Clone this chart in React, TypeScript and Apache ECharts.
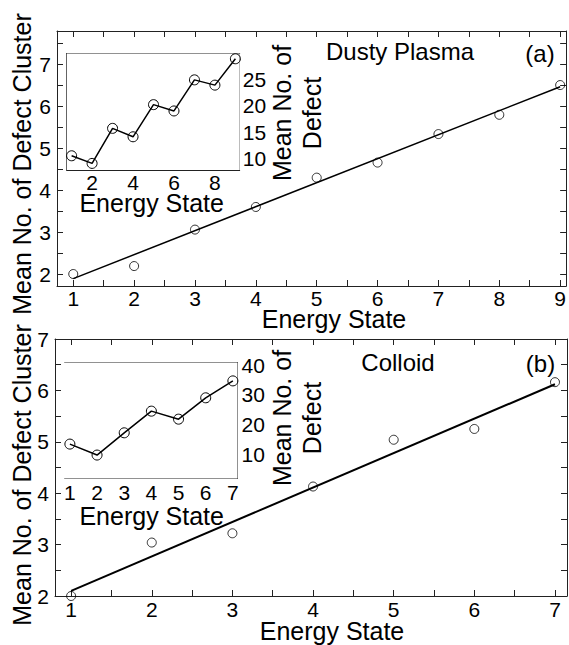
import React, { useEffect, useRef } from "react";
import * as echarts from "echarts";

const FONT = "'Liberation Sans', Arial, Helvetica, sans-serif";

// ---- Panel (a): Dusty Plasma ----
const plasmaStates = [1, 2, 3, 4, 5, 6, 7, 8, 9];
const plasmaClusters = [2.0, 2.19, 3.06, 3.6, 4.3, 4.66, 5.34, 5.8, 6.51];
const plasmaFitX = [1, 9];
const plasmaFitY = [1.89, 6.47];
const plasmaDefects = [10.5, 9.05, 15.7, 14.1, 20.2, 19.0, 24.9, 23.9, 28.9];

// ---- Panel (b): Colloid ----
const colloidStates = [1, 2, 3, 4, 5, 6, 7];
const colloidClusters = [2.0, 3.04, 3.22, 4.13, 5.04, 5.25, 6.16];
const colloidFitX = [1, 7];
const colloidFitY = [2.1, 6.12];
const colloidDefects = [13.4, 9.7, 17.2, 24.5, 21.8, 29.0, 34.7];

// ---- Ticks & labels ----
const plasmaXTicks = [1, 1.5, 2, 2.5, 3, 3.5, 4, 4.5, 5, 5.5, 6, 6.5, 7, 7.5, 8, 8.5, 9];
const plasmaXLabels = [1, 2, 3, 4, 5, 6, 7, 8, 9];
const plasmaYTicks = [2, 2.5, 3, 3.5, 4, 4.5, 5, 5.5, 6, 6.5, 7, 7.5];
const plasmaYLabels = [2, 3, 4, 5, 6, 7];
const plasmaInsetXTicks = [1, 2, 3, 4, 5, 6, 7, 8, 9];
const plasmaInsetXLabels = [2, 4, 6, 8];
const plasmaInsetYTicks = [10, 12.5, 15, 17.5, 20, 22.5, 25, 27.5];
const plasmaInsetYLabels = [10, 15, 20, 25];

const colloidXTicks = [1, 1.5, 2, 2.5, 3, 3.5, 4, 4.5, 5, 5.5, 6, 6.5, 7];
const colloidXLabels = [1, 2, 3, 4, 5, 6, 7];
const colloidYTicks = [2, 2.5, 3, 3.5, 4, 4.5, 5, 5.5, 6, 6.5, 7];
const colloidYLabels = [2, 3, 4, 5, 6, 7];
const colloidInsetXTicks = [1, 1.5, 2, 2.5, 3, 3.5, 4, 4.5, 5, 5.5, 6, 6.5, 7];
const colloidInsetXLabels = [1, 2, 3, 4, 5, 6, 7];
const colloidInsetYTicks = [5, 10, 15, 20, 25, 30, 35, 40];
const colloidInsetYLabels = [10, 20, 30, 40];

const AXIS_COLOR = "#222";

function axis(opts: any) {
  const {
    gridIndex, position, min, max, ticks, labels, tickLen = 6,
    labelSize = 21, margin = 4,
  } = opts;
  return {
    type: "value",
    gridIndex,
    position,
    min,
    max,
    splitLine: { show: false },
    axisLine: { show: true, onZero: false, lineStyle: { color: AXIS_COLOR, width: 1 } },
    axisTick: ticks
      ? { show: true, inside: true, length: tickLen, customValues: ticks, lineStyle: { color: AXIS_COLOR, width: 1 } }
      : { show: false },
    axisLabel: labels
      ? { show: true, customValues: labels, fontSize: labelSize, fontFamily: FONT, color: "#000", margin }
      : { show: false },
  };
}

function pairs(xs: number[], ys: number[]) {
  return xs.map((x, i) => [x, ys[i]]);
}

function txt(text: string, x: number, y: number, size: number, rotate = false, lineHeight?: number) {
  return {
    type: "text",
    x,
    y,
    rotation: rotate ? Math.PI / 2 : 0,
    z: 100,
    style: {
      text,
      fontSize: size,
      fontFamily: FONT,
      fill: "#000",
      textAlign: "center",
      textVerticalAlign: "middle",
      align: "center",
      verticalAlign: "middle",
      lineHeight: lineHeight || size,
    },
  };
}

export default function App() {
  const ref = useRef<HTMLDivElement>(null);
  useEffect(() => {
    if (!ref.current) return;
    const chart = echarts.init(ref.current, undefined, { renderer: "svg" });
    const markerStyle = { color: "transparent", borderColor: "#000", borderWidth: 1 };
    const option: any = {
      animation: false,
      backgroundColor: "#fff",
      grid: [
        { left: 57, top: 31, width: 510, height: 255 },
        { left: 55, top: 339, width: 512, height: 257 },
        { left: 66.7, top: 53.5, width: 173, height: 116.5, show: true, backgroundColor: "#fff", borderWidth: 0, z: 3 },
        { left: 65, top: 362.5, width: 172.5, height: 116, show: true, backgroundColor: "#fff", borderWidth: 0, z: 3 },
      ],
      xAxis: [
        axis({ gridIndex: 0, position: "bottom", min: 0.733, max: 9.098, ticks: plasmaXTicks, labels: plasmaXLabels, margin: 2 }),
        axis({ gridIndex: 0, position: "top", min: 0.733, max: 9.098, ticks: plasmaXTicks }),
        axis({ gridIndex: 1, position: "bottom", min: 0.8, max: 7.149, ticks: colloidXTicks, labels: colloidXLabels, margin: 3 }),
        axis({ gridIndex: 1, position: "top", min: 0.8, max: 7.149, ticks: colloidXTicks }),
        axis({ gridIndex: 2, position: "bottom", min: 0.76, max: 9.21, ticks: plasmaInsetXTicks, labels: plasmaInsetXLabels, tickLen: 5, margin: 2 }),
        axis({ gridIndex: 2, position: "top", min: 0.76, max: 9.21 }),
        axis({ gridIndex: 3, position: "bottom", min: 0.82, max: 7.17, ticks: colloidInsetXTicks, labels: colloidInsetXLabels, tickLen: 5, margin: 3 }),
        axis({ gridIndex: 3, position: "top", min: 0.82, max: 7.17, ticks: colloidInsetXTicks, tickLen: 5 }),
      ],
      yAxis: [
        axis({ gridIndex: 0, position: "left", min: 1.714, max: 7.8, ticks: plasmaYTicks, labels: plasmaYLabels, margin: 6 }),
        axis({ gridIndex: 0, position: "right", min: 1.714, max: 7.8, ticks: plasmaYTicks }),
        axis({ gridIndex: 1, position: "left", min: 2, max: 7, ticks: colloidYTicks, labels: colloidYLabels, margin: 6 }),
        axis({ gridIndex: 1, position: "right", min: 2, max: 7, ticks: colloidYTicks }),
        axis({ gridIndex: 2, position: "left", min: 7.8, max: 29.9 }),
        axis({ gridIndex: 2, position: "right", min: 7.8, max: 29.9, ticks: plasmaInsetYTicks, labels: plasmaInsetYLabels, tickLen: 5, margin: 3 }),
        axis({ gridIndex: 3, position: "left", min: 1.8, max: 40.9, ticks: colloidInsetYTicks, tickLen: 5 }),
        axis({ gridIndex: 3, position: "right", min: 1.8, max: 40.9, ticks: colloidInsetYTicks, labels: colloidInsetYLabels, tickLen: 5, margin: 4 }),
      ],
      series: [
        {
          type: "scatter", xAxisIndex: 0, yAxisIndex: 0, z: 3,
          data: pairs(plasmaStates, plasmaClusters),
          symbol: "circle", symbolSize: 9, itemStyle: markerStyle,
        },
        {
          type: "line", xAxisIndex: 0, yAxisIndex: 0, z: 2,
          data: pairs(plasmaFitX, plasmaFitY),
          symbol: "none", lineStyle: { color: "#000", width: 1.5 },
        },
        {
          type: "line", xAxisIndex: 4, yAxisIndex: 4, z: 5,
          data: pairs(plasmaStates, plasmaDefects),
          symbol: "circle", symbolSize: 10, showSymbol: true, itemStyle: markerStyle,
          lineStyle: { color: "#000", width: 1.5 },
        },
        {
          type: "scatter", xAxisIndex: 2, yAxisIndex: 2, z: 3,
          data: pairs(colloidStates, colloidClusters),
          symbol: "circle", symbolSize: 9, itemStyle: markerStyle,
        },
        {
          type: "line", xAxisIndex: 2, yAxisIndex: 2, z: 2,
          data: pairs(colloidFitX, colloidFitY),
          symbol: "none", lineStyle: { color: "#000", width: 2 },
        },
        {
          type: "line", xAxisIndex: 6, yAxisIndex: 6, z: 5,
          data: pairs(colloidStates, colloidDefects),
          symbol: "circle", symbolSize: 10, showSymbol: true, itemStyle: markerStyle,
          lineStyle: { color: "#000", width: 1.5 },
        },
      ],
      graphic: [
        txt("Mean No. of Defect Cluster", 22, 164, 25, true),
        txt("Energy State", 334, 319, 25),
        txt("Energy State", 151.7, 203, 25),
        txt("Mean No. of\nDefect", 297, 113, 25, true, 30),
        txt("Dusty Plasma", 400, 51, 24),
        txt("(a)", 540, 53, 24),
        txt("Mean No. of Defect Cluster", 22, 475, 25, true),
        txt("Energy State", 332, 631, 25),
        txt("Energy State", 151.7, 516, 25),
        txt("Mean No. of\nDefect", 297, 418, 25, true, 30),
        txt("Colloid", 398, 362, 24),
        txt("(b)", 540.5, 363, 24),
      ],
    };
    chart.setOption(option);
    return () => chart.dispose();
  }, []);
  return (
    <div
      ref={ref}
      style={{ position: "absolute", left: 0, top: 0, width: 569, height: 645 }}
    />
  );
}
